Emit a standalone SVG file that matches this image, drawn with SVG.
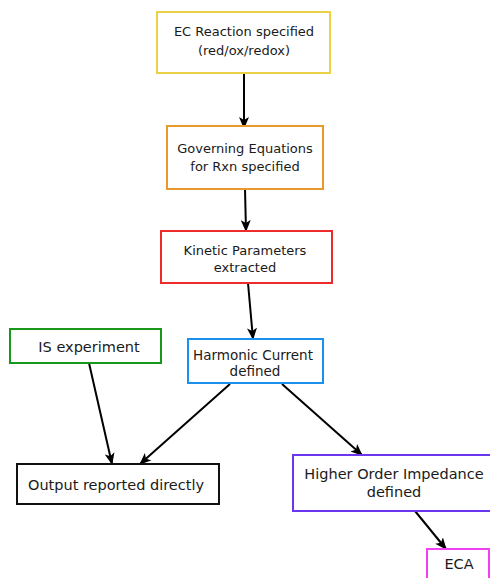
<svg xmlns="http://www.w3.org/2000/svg" width="490" height="578" viewBox="0 0 490 578">
<style>
.box{fill:#fff;stroke-width:2}
.t{font-family:"DejaVu Sans",Verdana,sans-serif;font-size:13px;fill:#1a1a1a;text-anchor:middle}
.L{font-size:14.5px}
.c{stroke:#000;stroke-width:2;fill:none;marker-end:url(#ah)}
</style>
<defs>
<marker id="ah" viewBox="0 0 12 10" refX="11" refY="5" markerWidth="12" markerHeight="10" markerUnits="userSpaceOnUse" orient="auto">
<path d="M0,0 L12,5 L0,10 L3,5 Z" fill="#000"/>
</marker>
</defs>
<rect width="490" height="578" fill="#fff"/>
<g id="connectors">
<line class="c" x1="244" y1="73" x2="244" y2="128"/>
<line class="c" x1="245" y1="189" x2="246" y2="231"/>
<line class="c" x1="248" y1="283" x2="253" y2="339"/>
<line class="c" x1="89" y1="363" x2="112" y2="464"/>
<line class="c" x1="230" y1="384" x2="140" y2="464"/>
<line class="c" x1="282" y1="384" x2="362" y2="455"/>
<line class="c" x1="415" y1="511" x2="446" y2="549"/>
</g>
<g id="n1"><rect class="box" x="157" y="12" width="173" height="61" stroke="#ecd144"/>
<text class="t" x="244" y="36">EC Reaction specified</text><text class="t" x="244" y="55">(red/ox/redox)</text></g>
<g id="n2"><rect class="box" x="167" y="126" width="156" height="63" stroke="#e99a2c"/>
<text class="t" x="245" y="153">Governing Equations</text><text class="t" x="245" y="171">for Rxn specified</text></g>
<g id="n3"><rect class="box" x="161" y="231" width="171" height="52" stroke="#ee2a2a"/>
<text class="t" x="245" y="255">Kinetic Parameters</text><text class="t" x="245" y="272">extracted</text></g>
<g id="n4"><rect class="box" x="188" y="339" width="135" height="44" stroke="#1a90ef"/>
<text class="t" x="253" y="360" style="font-size:13.5px">Harmonic Current</text><text class="t" x="255" y="376" style="font-size:13.5px">defined</text></g>
<g id="n5"><rect class="box" x="10" y="329" width="151" height="34" stroke="#189818"/>
<text class="t L" x="89" y="352">IS experiment</text></g>
<g id="n6"><rect class="box" x="17" y="464" width="202" height="40" stroke="#111"/>
<text class="t L" x="116" y="490">Output reported directly</text></g>
<g id="n7"><rect class="box" x="293" y="455" width="200" height="56" stroke="#6a36f0"/>
<text class="t L" x="394" y="479">Higher Order Impedance</text><text class="t L" x="394" y="497">defined</text></g>
<g id="n8"><rect class="box" x="427" y="549" width="62" height="40" stroke="#f040f0"/>
<text class="t L" x="459" y="569">ECA</text></g>
</svg>
